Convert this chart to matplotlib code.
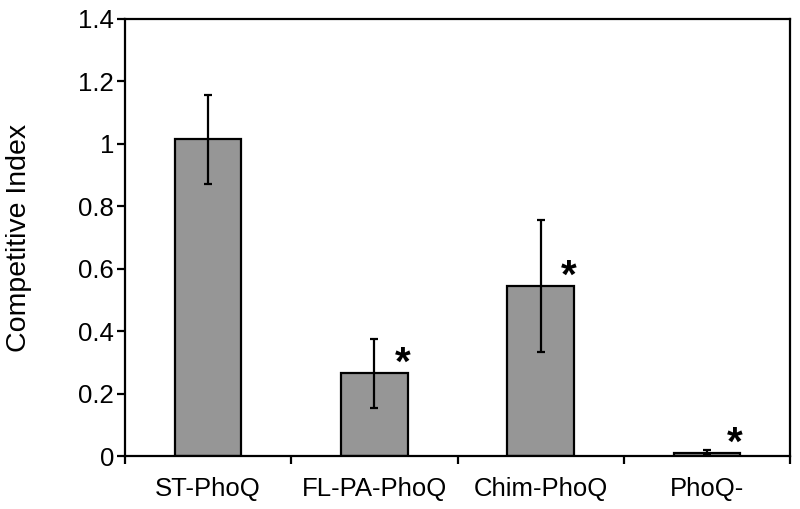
import matplotlib
matplotlib.use("Agg")
import matplotlib.pyplot as plt
import numpy as np

categories = ["ST-PhoQ", "FL-PA-PhoQ", "Chim-PhoQ", "PhoQ-"]
values = [1.015, 0.265, 0.544, 0.010]
errors = [0.143, 0.110, 0.211, 0.008]
significant = [False, True, True, True]
yticks = [0, 0.2, 0.4, 0.6, 0.8, 1.0, 1.2, 1.4]
ytick_labels = ["0", "0.2", "0.4", "0.6", "0.8", "1", "1.2", "1.4"]

plt.rcParams['font.family'] = ['Liberation Sans', 'DejaVu Sans']

fig = plt.figure(figsize=(8, 5.09), dpi=100)
ax = fig.add_axes([125/800, 53/509, 665/800, 437/509])

x = np.arange(len(categories))
ax.bar(x, values, width=0.40, color="#969696", edgecolor="black", linewidth=1.6,
       yerr=errors, error_kw=dict(ecolor="black", elinewidth=1.6, capsize=3, capthick=1.6),
       zorder=2)

for xi, v, s in zip(x, values, significant):
    if s:
        ax.text(xi + 0.17, v - 0.005, "*", fontsize=29,
                fontweight="bold", ha="center", va="baseline")

ax.set_xlim(-0.5, len(categories) - 0.5)
ax.set_ylim(0, 1.4)
ax.set_yticks(yticks)
ax.set_yticklabels(ytick_labels, fontsize=18.5)
ax.set_xticks(x)
ax.set_xticklabels(categories, fontsize=18.5)
ax.tick_params(axis="x", length=0, pad=15)
ax.set_xticks(np.arange(len(categories) + 1) - 0.5, minor=True)
ax.tick_params(axis="x", which="minor", length=6, width=1.6, direction="out")
ax.tick_params(axis="y", length=6, width=1.6, direction="out", pad=2)
for sp in ax.spines.values():
    sp.set_linewidth(1.6)
ax.set_ylabel("Competitive Index", fontsize=20.5)
ax.yaxis.set_label_coords(-(125 - 6) / 665, 0.5)
ax.yaxis.label.set_verticalalignment("top")

fig.savefig("out.png", dpi=100)
